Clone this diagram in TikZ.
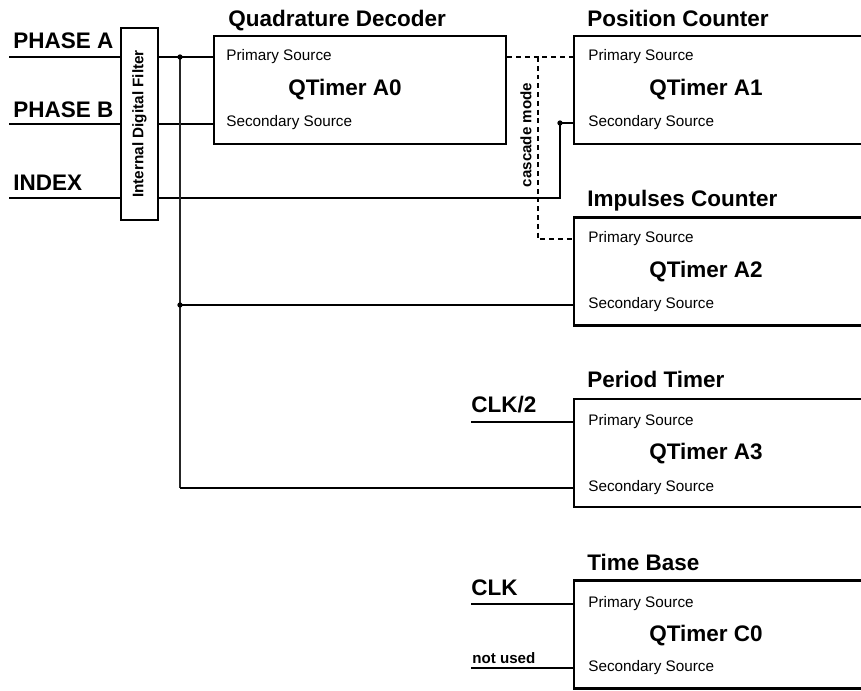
\documentclass[tikz,border=0pt]{standalone}
\usepackage{fontspec}
\setmainfont{Liberation Sans}

\begin{document}
\begin{tikzpicture}[
  x=0.02cm, y=-0.02cm,
  tbox/.style={draw,rectangle,line width=1.5pt,minimum height=2.16cm,inner sep=0pt},
  ttl/.style={anchor=base west,inner sep=0pt,font=\fontsize{12.8}{15}\selectfont\bfseries},
  big/.style={inner sep=0pt,font=\fontsize{12.8}{15}\selectfont\bfseries},
  src/.style={anchor=west,inner sep=0pt,font=\fontsize{8.7}{10}\selectfont},
  sig/.style={line width=1.1pt},
  casc/.style={line width=1.1pt,dash pattern=on 2.8pt off 2.2pt},
  jdot/.style={circle,fill,inner sep=0pt,minimum size=3pt}
]
  \clip (0,0) rectangle (861,690);

  % filter
  \node[draw,line width=1.5pt,minimum width=0.74cm,minimum height=3.84cm,inner sep=0pt] (flt) at (139.5,124) {};
  \node[rotate=90,inner sep=0pt,font=\fontsize{8.7}{10}\selectfont\bfseries] (fltt) at (flt.center) {Internal Digital Filter};

  % inputs
  \node[ttl] (lpa) at (13,48) {PHASE A};
  \node[ttl] (lpb) at (13,117) {PHASE B};
  \node[ttl] (lix) at (13,190) {INDEX};
  \node[ttl] (lc2) at (471,412) {CLK/2};
  \node[ttl] (lck) at (471,595) {CLK};
  \node[ttl,font=\fontsize{8.6}{10}\selectfont\bfseries] (lnu) at (472,663) {not used};
  \coordinate (pa) at (9,57);
  \coordinate (pb) at (9,124);
  \coordinate (ix) at (9,198);
  \coordinate (c2) at (471,422);
  \coordinate (ck) at (471,604);
  \coordinate (nu) at (471,668);

  % timer blocks
  \node[tbox,minimum width=5.84cm] (a0) at (360,90) {};
  \node[ttl] (a0h) at (228,26) {Quadrature Decoder};
  \node[src] (a0p) at (226,57) {Primary Source};
  \node[big] (a0q) at (345,90) {QTimer A0};
  \node[src] (a0s) at (226,123) {Secondary Source};

  \node[tbox,minimum width=6cm] (a1) at (724,90) {};
  \node[ttl] (a1h) at (587,26) {Position Counter};
  \node[src] (a1p) at (588,57) {Primary Source};
  \node[big] (a1q) at (706,90) {QTimer A1};
  \node[src] (a1s) at (588,123) {Secondary Source};

  \node[tbox,minimum width=6cm] (a2) at (724,271.5) {};
  \node[ttl] (a2h) at (587,206) {Impulses Counter};
  \node[src] (a2p) at (588,239) {Primary Source};
  \node[big] (a2q) at (706,272) {QTimer A2};
  \node[src] (a2s) at (588,305) {Secondary Source};

  \node[tbox,minimum width=6cm] (a3) at (724,453) {};
  \node[ttl] (a3h) at (587,387) {Period Timer};
  \node[src] (a3p) at (588,422) {Primary Source};
  \node[big] (a3q) at (706,454) {QTimer A3};
  \node[src] (a3s) at (588,488) {Secondary Source};

  \node[tbox,minimum width=6cm] (c0) at (724,634.5) {};
  \node[ttl] (c0h) at (587,570) {Time Base};
  \node[src] (c0p) at (588,604) {Primary Source};
  \node[big] (c0q) at (706,636) {QTimer C0};
  \node[src] (c0s) at (588,668) {Secondary Source};

  % input lines
  \draw[sig] (pa) -- (pa -| flt.west);
  \draw[sig] (pb) -- (pb -| flt.west);
  \draw[sig] (ix) -- (ix -| flt.west);
  \draw[sig] (flt.east |- a0p) -- (a0.west |- a0p);
  \draw[sig] (flt.east |- pb) -- (a0.west |- pb);

  % index to position counter
  \coordinate (ij) at (560,123);
  \draw[sig] (flt.east |- ix) -| (ij) -- (a1.west |- a1s);

  % phase A bus
  \coordinate (bus) at (180,57);
  \draw[line width=0.6pt,black!85] (bus) -- (bus |- a3s);
  \draw[sig] (bus |- a2s) -- (a2.west |- a2s);
  \draw[sig] (bus |- a3s) -- (a3.west |- a3s);
  \node[jdot] (d1) at (bus) {};
  \node[jdot] (d2) at (bus |- a2s) {};
  \node[jdot] (d3) at (ij) {};

  % cascade
  \coordinate (cas) at (538,57);
  \draw[casc] (a0.east |- a0p) -- (a1.west |- a1p);
  \draw[casc] (cas) |- (a2.west |- a2p);
  \node[rotate=90,inner sep=0pt,font=\fontsize{8.6}{10}\selectfont\bfseries] (cm) at (526,135) {cascade mode};

  % clocks
  \draw[sig] (c2) -- (a3.west |- c2);
  \draw[sig] (ck) -- (c0.west |- ck);
  \draw[sig] (nu) -- (c0.west |- nu);

\end{tikzpicture}
\end{document}
